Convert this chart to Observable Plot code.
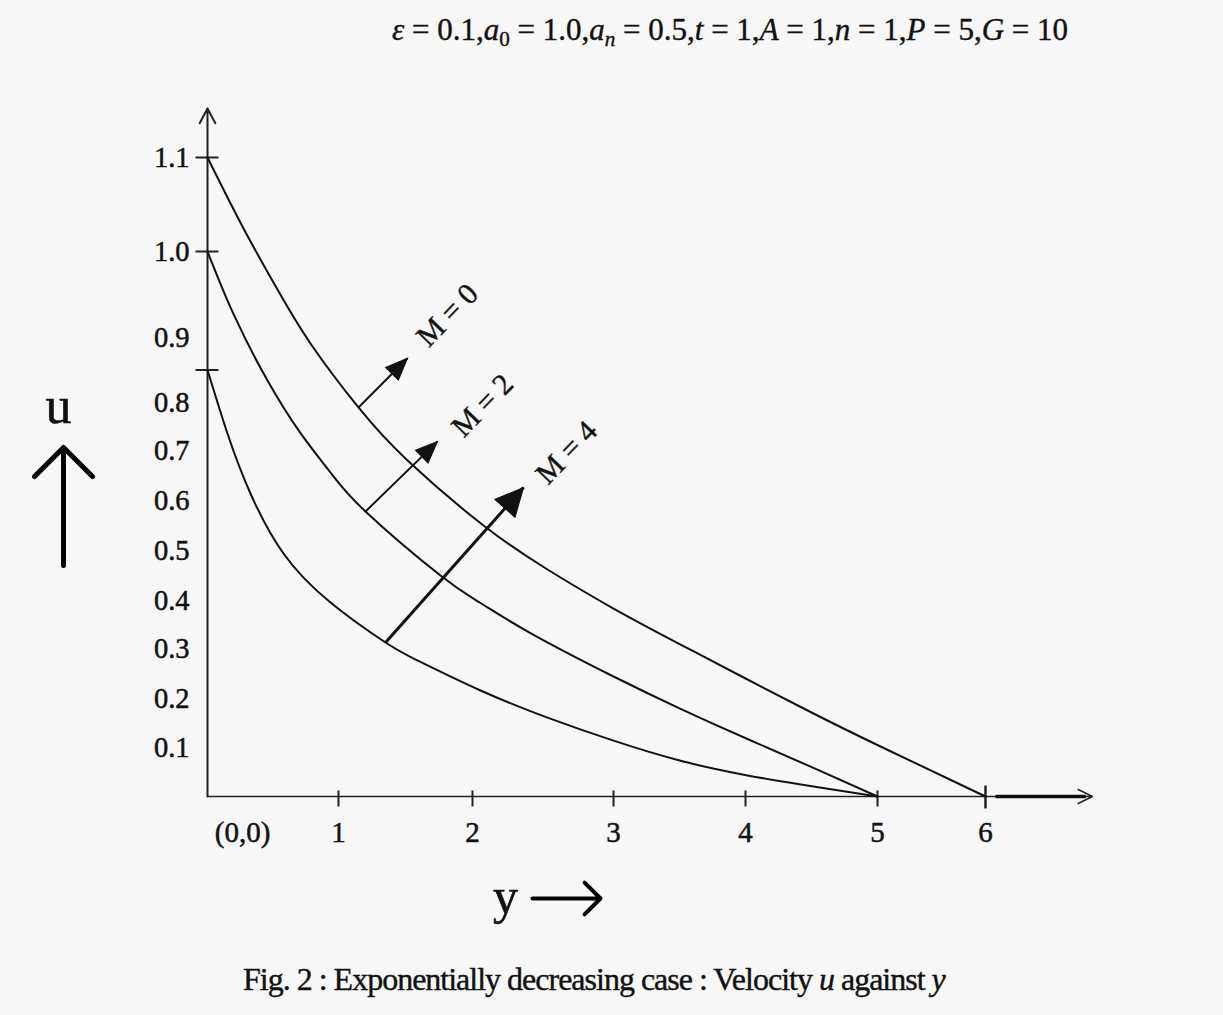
<!DOCTYPE html>
<html>
<head>
<meta charset="utf-8">
<script src="https://cdn.jsdelivr.net/npm/d3@7"></script>
<script src="https://cdn.jsdelivr.net/npm/@observablehq/plot@0.6"></script>
<style>
html, body { margin: 0; padding: 0; background: #f7f7f7; }
#page { position: relative; width: 1223px; height: 1015px; font-family: "Liberation Serif", "Times New Roman", serif; color: #111; overflow: hidden; }
#title { position: absolute; top: 14px; left: 392px; font-size: 31px; white-space: nowrap; line-height: 1; -webkit-text-stroke: 0.4px #111; }
#title sub { font-size: 0.68em; vertical-align: -0.3em; line-height: 0; }
#chart { position: absolute; top: 60px; left: 0; }
#caption { position: absolute; top: 963px; left: 243px; font-size: 32px; letter-spacing: -1px; white-space: nowrap; line-height: 1; -webkit-text-stroke: 0.4px #111; }
</style>
</head>
<body>
<div id="page">
  <div id="title"><i>ε</i> = 0.1,<i>a</i><sub>0</sub> = 1.0,<i>a</i><sub><i>n</i></sub> = 0.5,<i>t</i> = 1,<i>A</i> = 1,<i>n</i> = 1,<i>P</i> = 5,<i>G</i> = 10</div>
  <div id="chart"></div>
  <div id="caption">Fig. 2 : Exponentially decreasing case : Velocity <i>u</i> against <i>y</i></div>
</div>
<script>
// ---- data ----
const seriesNames = ["M = 0", "M = 2", "M = 4"];

const yM0 = [0, 0.275, 0.534, 0.786, 1.149, 1.515, 2.078, 2.532, 3.0, 3.508, 4.015, 4.515, 5.028, 6];
const uM0 = [1.1, 1.0245, 0.9558, 0.8908, 0.7896, 0.68, 0.55, 0.462, 0.3833, 0.3083, 0.238, 0.1694, 0.102, 0];

const yM2 = [0, 0.198, 0.458, 0.71, 0.939, 1.2015, 1.761, 2.057, 2.411, 3.0, 3.508, 4.015, 4.515, 5];
const uM2 = [1.0, 0.9274, 0.8338, 0.7363, 0.656, 0.578, 0.45, 0.3948, 0.3321, 0.244, 0.179, 0.1173, 0.0584, 0];

const yM4 = [0, 0.153, 0.328, 0.58, 0.939, 1.351, 1.59, 2.057, 2.532, 3.0, 3.508, 4.015, 4.515, 5];
const uM4 = [0.85, 0.735, 0.614, 0.494, 0.3958, 0.3125, 0.276, 0.216, 0.161, 0.114, 0.073, 0.043, 0.0204, 0];

// annotation arrows (start on curve -> tip) and labels
const arrowY1 = [1.149, 1.2015, 1.351];
const arrowU1 = [0.7896, 0.578, 0.3125];
const arrowY2 = [1.515, 1.739, 2.362];
const arrowU2 = [0.868, 0.719, 0.626];
const labelY = [1.813, 2.07, 2.667];
const labelU = [0.926, 0.794, 0.696];

// axis ticks and labels
const uTickMarks = [1.1, 1.0, 0.85];
const uTickValues = [0.1, 0.2, 0.3, 0.4, 0.5, 0.6, 0.7, 0.8, 0.9, 1.0, 1.1];
const uTickLabels = ["0.1", "0.2", "0.3", "0.4", "0.5", "0.6", "0.7", "0.8", "0.9", "1.0", "1.1"];
const yTickMinor = [1, 2, 3, 4, 5];
const yTickMajor = [6];
const yTickValues = [1, 2, 3, 4, 5, 6];
const yTickLabels = ["1", "2", "3", "4", "5", "6"];
const originLabel = "(0,0)";
const uAxisTop = 1.15;
const yAxisEnd = 6.8;
const yAxisThickFrom = 6.075;
const yAxisThickTo = 6.75;

// ---- scales (the figure's axes are not uniformly spaced: piecewise) ----
const xScale = {domain: [0, 1, 2, 3, 4, 5, 6, 6.8], range: [207, 338, 472, 613, 745, 877, 985, 1092]};
const yScale = {domain: [0, 0.1, 0.2, 0.3, 0.4, 0.5, 0.6, 0.7, 0.8, 0.9, 1.0, 1.1, 1.15],
                range: [736, 687, 638, 588, 540, 490, 440, 390, 342, 277, 191, 97, 48]};

const rows = [];
[[yM0, uM0], [yM2, uM2], [yM4, uM4]].forEach(([ys, us], k) => {
  ys.forEach((v, i) => rows.push({series: seriesNames[k], y: v, u: us[i]}));
});

const sx = Plot.scale({x: {type: "linear", ...xScale}});
const sy = Plot.scale({y: {type: "linear", ...yScale}});
const arrows = seriesNames.map((name, i) => {
  const px1 = sx.apply(arrowY1[i]), py1 = sy.apply(arrowU1[i]);
  const px2 = sx.apply(arrowY2[i]), py2 = sy.apply(arrowU2[i]);
  return {name, y1: arrowY1[i], u1: arrowU1[i], y2: arrowY2[i], u2: arrowU2[i],
          angle: Math.atan2(px2 - px1, -(py2 - py1)) * 180 / Math.PI};
});
const labels = seriesNames.map((name, i) => ({name, y: labelY[i], u: labelU[i]}));

const hTick = {draw(ctx) { ctx.moveTo(-12, 0); ctx.lineTo(11, 0); }};
const vTick = {draw(ctx) { ctx.moveTo(0, -6); ctx.lineTo(0, 10); }};
const vTickBig = {draw(ctx) { ctx.moveTo(0, -11); ctx.lineTo(0, 12); }};
const head = (L, W) => ({draw(ctx) { ctx.moveTo(0, 0); ctx.lineTo(-W / 2, L); ctx.lineTo(W / 2, L); ctx.closePath(); }});

const serif = "Liberation Serif, Times New Roman, serif";
const ink = "#111";

const chart = Plot.plot({
  width: 1223,
  height: 880,
  marginLeft: 207,
  marginRight: 131,
  marginTop: 48,
  marginBottom: 144,
  style: {background: "transparent", fontFamily: serif, color: ink},
  x: {...xScale, type: "linear", axis: null},
  y: {...yScale, type: "linear", axis: null},
  marks: [
    // axes
    Plot.arrow([{a: 0}], {x1: () => 0, y1: () => 0, x2: () => 0, y2: () => uAxisTop, stroke: "#222", strokeWidth: 2, headLength: 12.5, headAngle: 56}),
    Plot.arrow([{a: 0}], {x1: () => 0, y1: () => 0, x2: () => yAxisEnd, y2: () => 0, stroke: "#222", strokeWidth: 1.5, headLength: 16, headAngle: 52}),
    Plot.link([{a: 0}], {x1: () => yAxisThickFrom, x2: () => yAxisThickTo, y1: () => 0, y2: () => 0, stroke: "#111", strokeWidth: 3.5}),
    Plot.dot(uTickMarks, {x: () => 0, y: d => d, symbol: hTick, fill: "none", stroke: "#222", strokeWidth: 2}),
    Plot.dot(yTickMinor, {x: d => d, y: () => 0, symbol: vTick, fill: "none", stroke: "#222", strokeWidth: 2}),
    Plot.dot(yTickMajor, {x: d => d, y: () => 0, symbol: vTickBig, fill: "none", stroke: "#222", strokeWidth: 2.5}),
    Plot.text(uTickValues, {x: () => 0, y: d => d, text: (d, i) => uTickLabels[i], dx: -18, textAnchor: "end", fontSize: 28.5, fill: ink, stroke: ink, strokeWidth: 0.5}),
    Plot.text(yTickValues, {x: d => d, y: () => 0, text: (d, i) => yTickLabels[i], dy: 36, fontSize: 29, fill: ink, stroke: ink, strokeWidth: 0.5}),
    Plot.text([originLabel], {x: () => 0, y: () => 0, text: d => d, dx: 35, dy: 36, fontSize: 29, fill: ink, stroke: ink, strokeWidth: 0.5}),
    // curves
    Plot.line(rows, {x: "y", y: "u", z: "series", curve: "natural", stroke: ink, strokeWidth: 2}),
    // annotation arrows
    Plot.link(arrows.slice(0, 2), {x1: "y1", y1: "u1", x2: "y2", y2: "u2", stroke: ink, strokeWidth: 2}),
    Plot.link(arrows.slice(2), {x1: "y1", y1: "u1", x2: "y2", y2: "u2", stroke: ink, strokeWidth: 3}),
    Plot.dot(arrows.slice(0, 2), {x: "y2", y: "u2", rotate: "angle", symbol: head(22, 18), fill: ink, stroke: ink, strokeWidth: 1}),
    Plot.dot(arrows.slice(2), {x: "y2", y: "u2", rotate: "angle", symbol: head(28, 27), fill: ink, stroke: ink, strokeWidth: 1}),
    Plot.text(labels, {x: "y", y: "u", text: "name", rotate: -46, fontSize: 30, fill: ink, stroke: ink, strokeWidth: 0.4}),
    // axis titles with arrows
    Plot.text(["u"], {frameAnchor: "top-left", text: d => d, dx: -149, dy: 314, textAnchor: "middle", lineAnchor: "bottom", fontSize: 52, fill: ink, stroke: ink, strokeWidth: 0.6}),
    Plot.vector([0], {frameAnchor: "top-left", dx: -144, dy: 457, anchor: "start", length: 118, rotate: 0, r: 4.3, stroke: "#000", strokeWidth: 5}),
    Plot.text(["y"], {frameAnchor: "bottom-left", text: d => d, dx: 298, dy: 116, textAnchor: "middle", lineAnchor: "bottom", fontSize: 50, fill: ink, stroke: ink, strokeWidth: 0.6}),
    Plot.vector([0], {frameAnchor: "bottom-left", dx: 325, dy: 102, anchor: "start", length: 68, rotate: 90, r: 4.1, stroke: "#000", strokeWidth: 4})
  ]
});
document.getElementById("chart").appendChild(chart);
</script>
</body>
</html>
